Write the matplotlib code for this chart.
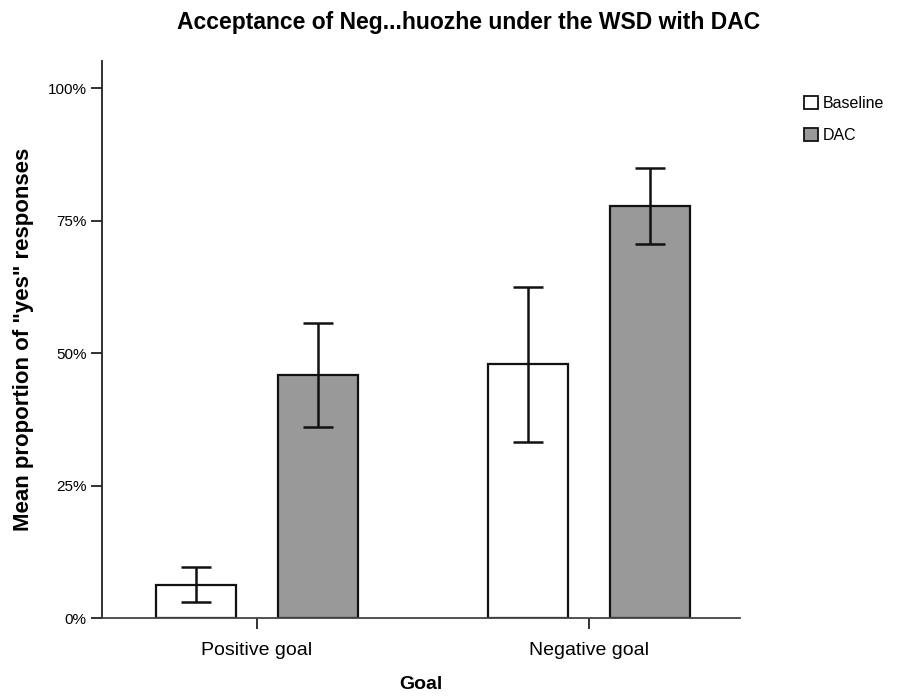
import numpy as np
import matplotlib.pyplot as plt
from matplotlib.patches import Patch
from matplotlib.ticker import PercentFormatter

plt.rcParams['font.family'] = ['Liberation Sans', 'DejaVu Sans']

# data
goals = ['Positive goal', 'Negative goal']
conditions = ['Baseline', 'DAC']
baseline_mean = [0.062, 0.479]
baseline_lo = [0.030, 0.333]
baseline_hi = [0.096, 0.625]
dac_mean = [0.458, 0.778]
dac_lo = [0.360, 0.706]
dac_hi = [0.556, 0.850]
y_ticks = [0, 0.25, 0.5, 0.75, 1.0]

colors = ['white', '#999999']
edge = '#111111'

fig = plt.figure(figsize=(9.14, 6.96), dpi=100)
ax = fig.add_axes([102/914, 78/696, 638/914, 557.4/696])

x = np.arange(len(goals))
width = 0.241
offset = 0.185

series = [(baseline_mean, baseline_lo, baseline_hi), (dac_mean, dac_lo, dac_hi)]
for i, (m, lo, hi) in enumerate(series):
    pos = x + (-offset if i == 0 else offset)
    m = np.array(m)
    yerr = np.vstack([m - np.array(lo), np.array(hi) - m])
    ax.bar(pos, m, width=width, color=colors[i], edgecolor=edge, linewidth=1.6, zorder=2)
    ax.errorbar(pos, m, yerr=yerr, fmt='none', ecolor=edge, elinewidth=1.8,
                capsize=11, capthick=1.8, zorder=3)

ax.set_xlim(-0.467, 1.455)
ax.set_ylim(0, 1.0523)
ax.set_xticks(x)
ax.set_xticklabels(goals, fontsize=14)
ax.set_yticks(y_ticks)
ax.yaxis.set_major_formatter(PercentFormatter(1.0, decimals=0))
ax.tick_params(axis='y', labelsize=11, length=8, width=1.3, color='#222222', pad=3)
ax.tick_params(axis='x', length=8, width=1.3, color='#222222', pad=9.5)

for s in ['top', 'right']:
    ax.spines[s].set_visible(False)
ax.spines['left'].set_linewidth(1.3)
ax.spines['bottom'].set_linewidth(1.3)
ax.spines['left'].set_color('#222222')
ax.spines['bottom'].set_color('#444444')

ax.set_xlabel('Goal', fontsize=14, fontweight='bold', labelpad=12)
ax.set_ylabel('Mean proportion of "yes" responses', fontsize=16, fontweight='bold', labelpad=10)

fig.text(469/914, 1 - 22/696, 'Acceptance of Neg...huozhe under the WSD with DAC',
         ha='center', va='center', fontsize=16.5, fontweight='bold')

handles = [Patch(facecolor=c, edgecolor=edge, linewidth=1.3) for c in colors]
fig.legend(handles, conditions, loc='upper left', bbox_to_anchor=(790/914, 1 - 82/696),
           frameon=False, fontsize=11.5, handlelength=0.85, handleheight=0.85,
           handletextpad=0.3, labelspacing=1.05)

fig.savefig('out.png', dpi=100)
